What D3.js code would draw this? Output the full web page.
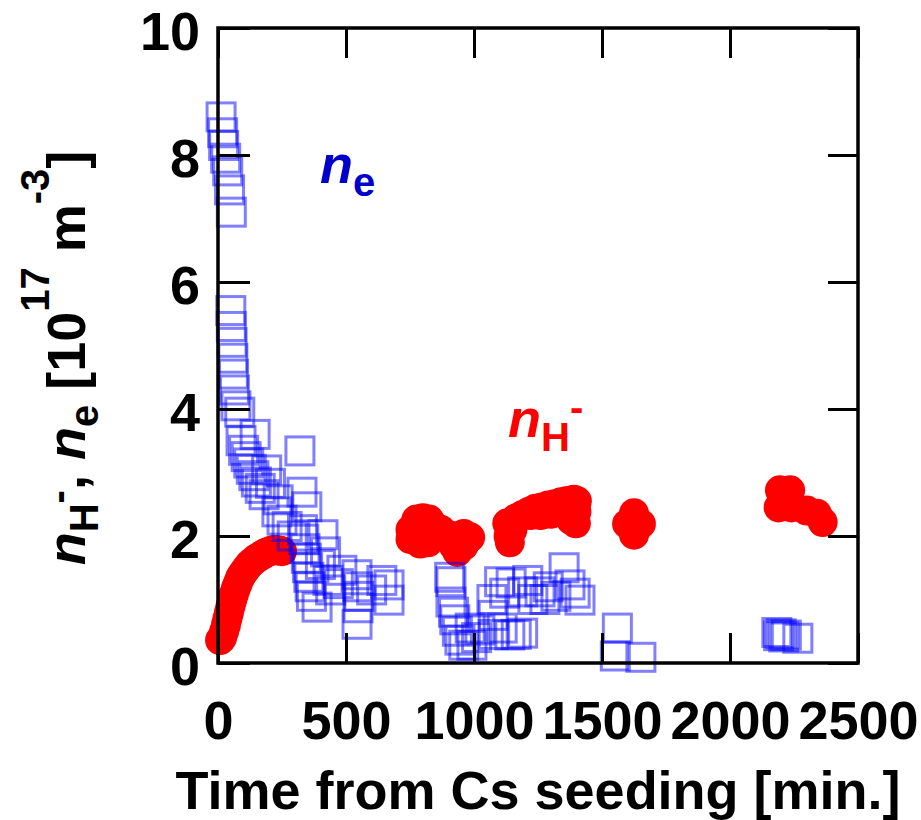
<!DOCTYPE html>
<html>
<head>
<meta charset="utf-8">
<script src="https://cdn.jsdelivr.net/npm/d3@7"></script>
<style>
  html, body { margin: 0; padding: 0; background: #fff; }
  svg { display: block; }
  text { font-family: "Liberation Sans", Arial, Helvetica, sans-serif; font-weight: bold; }
</style>
</head>
<body>
<svg id="chart" width="921" height="820"></svg>
<script>
// Axis ticks
const xTicks = [0, 500, 1000, 1500, 2000, 2500];
const yTicks = [0, 2, 4, 6, 8, 10];

// Electron density n_e [10^17 m^-3] vs time from Cs seeding [min]
const neTime = [
  12, 18, 22, 30, 38, 45, 52,
  50, 52, 55, 58, 60, 64, 70,
  85, 145, 90, 100, 110, 120, 130, 140, 150, 165, 180, 190, 205, 235, 230, 250, 270, 290,
  320, 328, 347, 330, 335, 340, 345, 350, 355, 360, 365, 387, 400, 410, 420, 430, 440, 484, 470,
  543, 545, 547, 543, 550, 600, 640, 668, 668,
  905, 910, 910, 920, 925, 935, 945, 960, 985, 992, 1010, 1023, 1070, 1075, 1075, 1100, 1110,
  1120, 1145, 1140, 1165, 1190, 1190, 1210, 1230, 1258, 1277, 1290, 1320, 1352, 1375, 1395, 1414,
  1560, 1552, 1652,
  2183, 2190, 2200, 2210, 2220, 2265
];
const neValue = [
  8.6, 8.35, 8.15, 7.95, 7.75, 7.45, 7.1,
  5.55, 5.3, 5.05, 4.8, 4.55, 4.3, 4.05,
  3.95, 3.6, 3.5, 3.35, 3.25, 3.15, 3.05, 2.95, 2.85, 2.75, 2.65, 3.04, 2.83, 2.57, 2.38, 2.25, 2.15, 2.0,
  3.34, 2.69, 2.46, 2.1, 1.95, 1.8, 1.65, 1.5, 1.35, 1.2, 1.05, 0.88, 1.55, 2.02, 1.75, 1.3, 1.15, 1.46, 1.25,
  1.39, 1.2, 0.87, 0.61, 1.05, 1.15, 1.3, 1.23, 0.99,
  1.35, 1.28, 0.96, 0.8, 0.68, 0.5, 0.36, 0.28, 0.55, 0.28, 0.4, 0.52, 1.0, 0.75, 0.45, 1.28, 0.55,
  1.1, 1.26, 0.44, 0.45, 1.12, 0.47, 1.3, 1.0, 1.12, 1.0, 1.2, 1.05, 1.5, 1.23, 1.1, 0.99,
  0.55, 0.11, 0.09,
  0.48, 0.43, 0.46, 0.41, 0.44, 0.39
];

// Negative hydrogen ion density n_H- [10^17 m^-3] vs time from Cs seeding [min]
const nhTime = [
  8, 16, 24, 31, 37, 43, 49, 55, 62, 70, 78, 86, 95, 105, 115, 125, 136, 148, 160, 172, 184, 195, 210, 223, 237, 250,
  752, 752, 775, 800, 825, 790, 820, 845, 870, 895, 915, 935, 945, 960, 975, 985, 960, 920,
  1130, 1135, 1140, 1150, 1165, 1190, 1215, 1240, 1265, 1290, 1315, 1340, 1365, 1390, 1402, 1400, 1398, 1380,
  1220, 1260, 1300, 1340,
  1598, 1625, 1625, 1652, 1625,
  2195, 2235, 2190, 2240, 2215, 2300, 2340, 2362
];
const nhValue = [
  0.36, 0.4, 0.5, 0.6, 0.7, 0.8, 0.9, 0.99, 1.08, 1.18, 1.26, 1.34, 1.4, 1.46, 1.51, 1.56, 1.6, 1.64, 1.67, 1.7, 1.73, 1.75, 1.77, 1.78, 1.77, 1.76,
  2.1, 1.95, 2.26, 2.28, 2.26, 1.88, 1.9, 2.15, 2.1, 2.02, 2.0, 1.75, 1.95, 2.03, 1.95, 1.98, 1.85, 1.85,
  2.2, 2.0, 1.9, 2.1, 2.28, 2.33, 2.38, 2.43, 2.45, 2.48, 2.5, 2.53, 2.55, 2.57, 2.55, 2.38, 2.2, 2.25,
  2.33, 2.33, 2.35, 2.38,
  2.19, 2.36, 2.02, 2.19, 2.2,
  2.72, 2.72, 2.45, 2.45, 2.6, 2.4, 2.35, 2.22
];

const svg = d3.select("#chart");
const plotLeft = 218, plotRight = 858, plotTop = 28, plotBottom = 663;

const x = d3.scaleLinear().domain([0, 2500]).range([plotLeft, plotRight]);
const y = d3.scaleLinear().domain([0, 10]).range([plotBottom, plotTop]);

const fontSize = 54;

// n_H- : filled red circles
const nh = nhTime.map((t, i) => ({ t, v: nhValue[i] }));
svg.append("g").selectAll("circle").data(nh).join("circle")
  .attr("cx", d => x(d.t)).attr("cy", d => y(d.v)).attr("r", 15)
  .attr("fill", "#ff0000");

// n_e : open translucent blue squares
const ne = neTime.map((t, i) => ({ t, v: neValue[i] }));
const sq = 28;
svg.append("g").selectAll("rect").data(ne).join("rect")
  .attr("x", d => x(d.t) - sq / 2).attr("y", d => y(d.v) - sq / 2)
  .attr("width", sq).attr("height", sq)
  .attr("fill", "none").attr("stroke", "#0000ff")
  .attr("stroke-opacity", 0.5).attr("stroke-width", 3);

// Axes with inward ticks on all four sides
function styleAxis(g) {
  g.select(".domain").remove();
  g.selectAll(".tick line").attr("stroke", "#000").attr("stroke-width", 3);
  g.selectAll(".tick text").attr("fill", "#000")
    .style("font-size", fontSize + "px").style("font-weight", "bold")
    .style("font-family", '"Liberation Sans", Arial, sans-serif');
}

svg.append("g").attr("transform", `translate(0,${plotBottom})`)
  .call(d3.axisBottom(x).tickValues(xTicks).tickSize(-30).tickPadding(38).tickFormat(d3.format("d")))
  .call(styleAxis);
svg.append("g").attr("transform", `translate(0,${plotTop})`)
  .call(d3.axisTop(x).tickValues(xTicks).tickSize(-30).tickFormat(""))
  .call(styleAxis);
svg.append("g").attr("transform", `translate(${plotLeft},0)`)
  .call(d3.axisLeft(y).tickValues(yTicks).tickSize(-32).tickPadding(18).tickFormat(d3.format("d")))
  .call(styleAxis)
  .call(g => g.selectAll(".tick text").attr("dy", "0.39em"));
svg.append("g").attr("transform", `translate(${plotRight},0)`)
  .call(d3.axisRight(y).tickValues(yTicks).tickSize(-30).tickFormat(""))
  .call(styleAxis);

// Frame
svg.append("rect")
  .attr("x", x(0)).attr("y", y(10))
  .attr("width", x(2500) - x(0)).attr("height", y(0) - y(10))
  .attr("fill", "none").attr("stroke", "#000").attr("stroke-width", 3.5);

// X axis title
svg.append("text")
  .attr("x", (plotLeft + plotRight) / 2).attr("y", 809)
  .attr("text-anchor", "middle")
  .style("font-size", fontSize + "px")
  .text("Time from Cs seeding [min.]");

// Y axis title: n_H-, n_e [10^17 m^-3]
const yl = svg.append("text")
  .attr("transform", "translate(85,358) rotate(-90)")
  .attr("text-anchor", "middle")
  .style("font-size", fontSize + "px");
const small = 40, subDy = 13, supDy = -36;
yl.append("tspan").style("font-style", "italic").text("n");
yl.append("tspan").attr("dy", subDy).style("font-size", small + "px").text("H");
yl.append("tspan").attr("dy", -26).style("font-size", small + "px").text("-");
yl.append("tspan").attr("dy", 13).text(", ");
yl.append("tspan").style("font-style", "italic").text("n");
yl.append("tspan").attr("dy", subDy).style("font-size", small + "px").text("e");
yl.append("tspan").attr("dy", -subDy).text(" [10");
yl.append("tspan").attr("dy", supDy).style("font-size", small + "px").text("17");
yl.append("tspan").attr("dy", -supDy).text(" m");
yl.append("tspan").attr("dy", supDy).style("font-size", small + "px").text("-3");
yl.append("tspan").attr("dy", -supDy).text("]");

// Series labels inside the plot
const neLab = svg.append("text").attr("x", 320).attr("y", 183)
  .attr("fill", "#0000cc").style("font-size", fontSize + "px");
neLab.append("tspan").style("font-style", "italic").text("n");
neLab.append("tspan").attr("dy", 13).style("font-size", small + "px").text("e");

const nhLab = svg.append("text").attr("x", 508).attr("y", 437)
  .attr("fill", "#ff0000").style("font-size", fontSize + "px");
nhLab.append("tspan").style("font-style", "italic").text("n");
nhLab.append("tspan").attr("dy", 14).style("font-size", small + "px").text("H");
nhLab.append("tspan").attr("dy", -30).style("font-size", small + "px").text("-");
</script>
</body>
</html>
